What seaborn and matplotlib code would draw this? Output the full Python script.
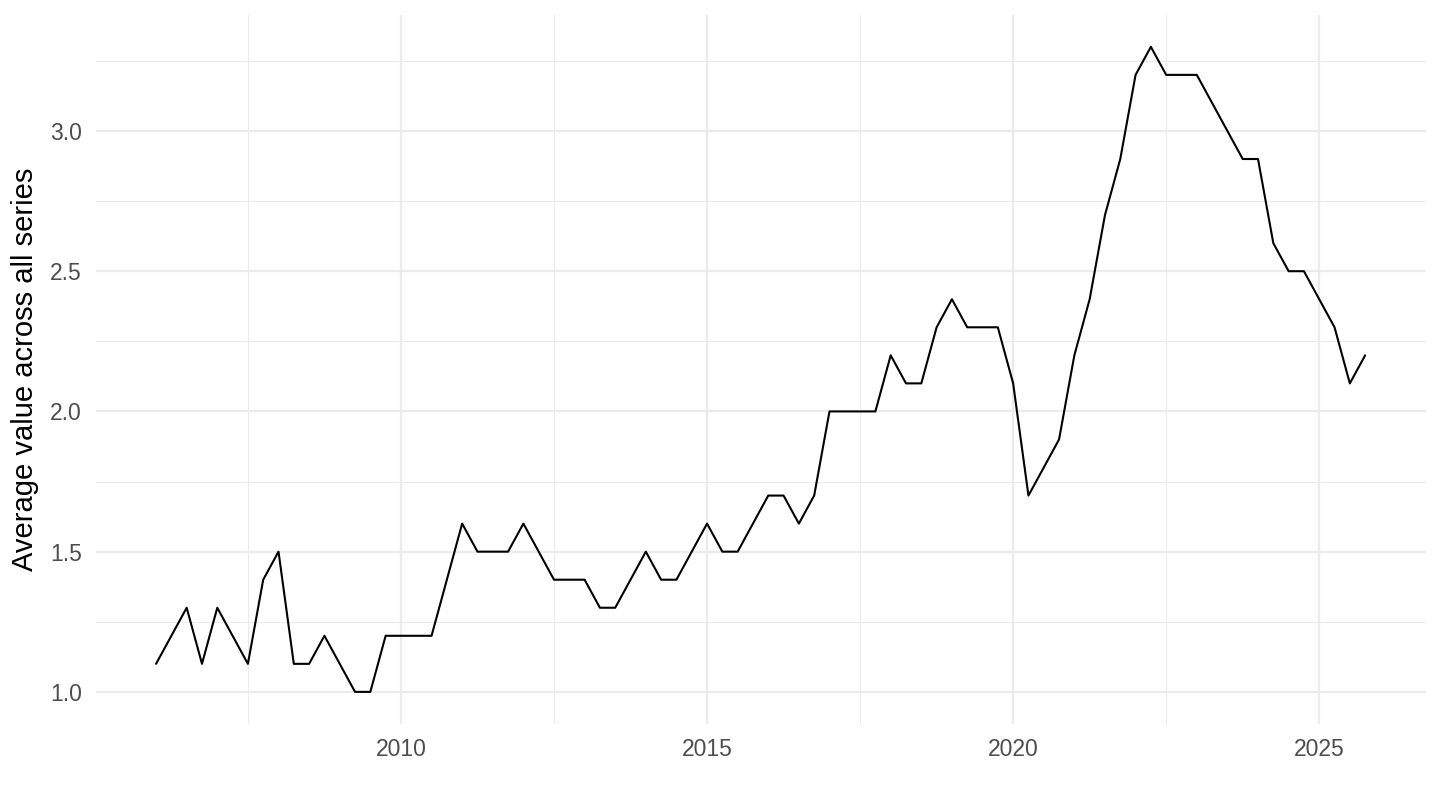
import numpy as np
import pandas as pd
import matplotlib
matplotlib.use("Agg")
import matplotlib.pyplot as plt
import seaborn as sns
from matplotlib.ticker import MultipleLocator

# quarterly values, 2006Q1 .. 2025Q4
years = list(range(2006, 2026))
quarters = [0.0, 0.25, 0.5, 0.75]
values = [
    1.1, 1.2, 1.3, 1.1,   # 2006
    1.3, 1.2, 1.1, 1.4,   # 2007
    1.5, 1.1, 1.1, 1.2,   # 2008
    1.1, 1.0, 1.0, 1.2,   # 2009
    1.2, 1.2, 1.2, 1.4,   # 2010
    1.6, 1.5, 1.5, 1.5,   # 2011
    1.6, 1.5, 1.4, 1.4,   # 2012
    1.4, 1.3, 1.3, 1.4,   # 2013
    1.5, 1.4, 1.4, 1.5,   # 2014
    1.6, 1.5, 1.5, 1.6,   # 2015
    1.7, 1.7, 1.6, 1.7,   # 2016
    2.0, 2.0, 2.0, 2.0,   # 2017
    2.2, 2.1, 2.1, 2.3,   # 2018
    2.4, 2.3, 2.3, 2.3,   # 2019
    2.1, 1.7, 1.8, 1.9,   # 2020
    2.2, 2.4, 2.7, 2.9,   # 2021
    3.2, 3.3, 3.2, 3.2,   # 2022
    3.2, 3.1, 3.0, 2.9,   # 2023
    2.9, 2.6, 2.5, 2.5,   # 2024
    2.4, 2.3, 2.1, 2.2,   # 2025
]
dates = [y + q for y in years for q in quarters]

df = pd.DataFrame({"date": dates, "value": values})

sns.set_theme(style="white")
plt.rcParams['font.family'] = ['Liberation Sans', 'DejaVu Sans']

fig = plt.figure(figsize=(14.4, 8.1), dpi=100)
ax = fig.add_axes([0.0664, 0.106, 0.9236, 0.876])

sns.lineplot(data=df, x="date", y="value", color="black", linewidth=1.5, ax=ax)

# ggplot-like expansion of 5%
xr = max(dates) - min(dates)
yr = max(values) - min(values)
ax.set_xlim(min(dates) - 0.05 * xr, max(dates) + 0.05 * xr)
ax.set_ylim(min(values) - 0.05 * yr, max(values) + 0.05 * yr)

ax.xaxis.set_major_locator(MultipleLocator(5))
ax.xaxis.set_minor_locator(MultipleLocator(2.5))
ax.yaxis.set_major_locator(MultipleLocator(0.5))
ax.yaxis.set_minor_locator(MultipleLocator(0.25))
ax.set_xticks([2010, 2015, 2020, 2025])
ax.set_xticklabels(["2010", "2015", "2020", "2025"])
ax.yaxis.set_major_formatter(matplotlib.ticker.FormatStrFormatter("%.1f"))

ax.grid(which="major", color="#ebebeb", linewidth=1.6)
ax.grid(which="minor", color="#ebebeb", linewidth=0.8)
ax.set_axisbelow(True)
for s in ax.spines.values():
    s.set_visible(False)

ax.tick_params(axis="both", which="both", length=0, labelsize=16.5, labelcolor="#4d4d4d", pad=10)
ax.set_xlabel("")
ax.set_ylabel("Average value across all series", fontsize=21, color="black", labelpad=8)

fig.savefig("out.png", dpi=100)
